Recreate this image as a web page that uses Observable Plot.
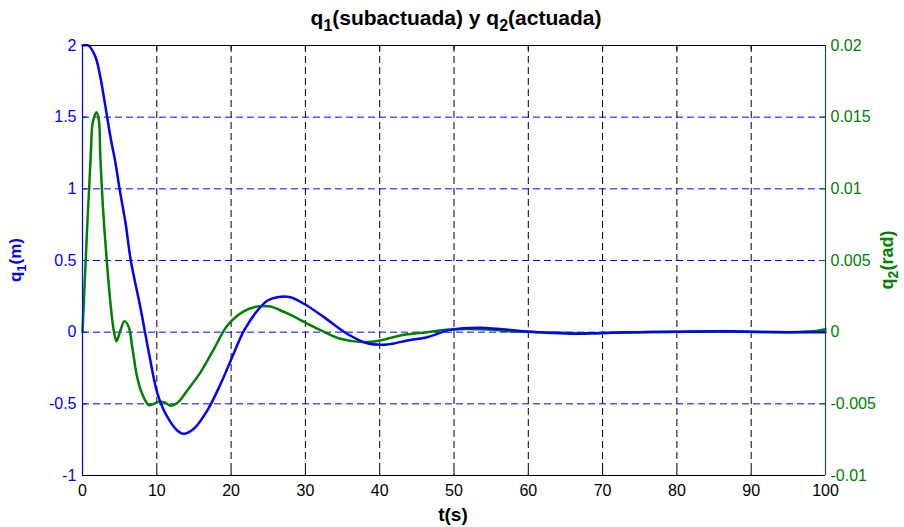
<!DOCTYPE html>
<html>
<head>
<meta charset="utf-8">
<script src="https://cdn.jsdelivr.net/npm/d3@7"></script>
<script src="https://cdn.jsdelivr.net/npm/@observablehq/plot@0.6"></script>
<style>
  html, body { margin: 0; padding: 0; background: #fff; }
</style>
</head>
<body>
<div id="chart"></div>
<script>
// q1: underactuated coordinate (m), left axis
const tQ1 = [0, 0.8, 1.75, 2.4, 3.1, 3.77, 4.44, 5.02, 5.8, 6.5, 7.8, 8.96, 10.1, 11.4, 12.75, 13.6, 14.98, 16.8, 18.6, 19.96, 21.75, 23.55, 24.9, 26.2, 28.0, 29.8, 32.5, 35.6, 38.3, 41.0, 43.7, 46.4, 49.5, 53.6, 55.8, 59.8, 63, 66.5, 70, 75, 80, 86.7, 90, 95, 100];
const q1 = [2, 2, 1.92, 1.78, 1.57, 1.36, 1.18, 0.99, 0.76, 0.50, 0.17, -0.15, -0.43, -0.59, -0.686, -0.709, -0.674, -0.546, -0.36, -0.197, 0.012, 0.151, 0.221, 0.244, 0.244, 0.198, 0.105, -0.011, -0.077, -0.086, -0.058, -0.035, 0.016, 0.031, 0.023, 0.005, -0.005, -0.011, -0.005, 0.0, 0.003, 0.007, 0.003, 0.0, 0.0];

// q2: actuated coordinate (rad), right axis
const tQ2 = [0, 0.63, 1.1, 1.39, 1.88, 2.2, 2.4, 2.78, 3.3, 3.77, 4.2, 4.58, 5.1, 5.65, 6.23, 6.7, 7.36, 8.03, 8.96, 10.1, 11.0, 11.9, 12.75, 14.1, 15.9, 17.7, 19.5, 21.75, 23.55, 25.3, 26.6, 28.4, 30.7, 32.1, 34.7, 37.9, 40.1, 42.8, 46.4, 49.5, 54.5, 57.2, 62, 67, 75, 85, 95, 99, 100];
const q2 = [0, 0.0073, 0.0122, 0.01465, 0.01535, 0.0148, 0.0122, 0.0085, 0.00477, 0.00198, 0.00012, -0.00063, 0.00012, 0.00077, 0.00035, -0.00105, -0.00314, -0.0043, -0.0051, -0.00488, -0.00488, -0.00514, -0.00495, -0.00407, -0.00279, -0.00116, 0.00047, 0.00147, 0.00179, 0.00179, 0.00153, 0.00111, 0.00047, 0.00012, -0.00046, -0.0007, -0.00058, -0.00023, 0.0, 0.00019, 0.00019, 0.00007, 0.0, -0.00007, 0.0, 0.00005, 0.0, 0.0001, 0.0002];

const xTicks = [0, 10, 20, 30, 40, 50, 60, 70, 80, 90, 100];
const leftTicks = [-1, -0.5, 0, 0.5, 1, 1.5, 2];
const leftTickLabels = ["-1", "-0.5", "0", "0.5", "1", "1.5", "2"];
const rightTicks = [-0.01, -0.005, 0, 0.005, 0.01, 0.015, 0.02];
const rightTickLabels = ["-0.01", "-0.005", "0", "0.005", "0.01", "0.015", "0.02"];

// The right axis (rad) shares the vertical scale: 0.02 rad sits level with 2 m.
const RAD_TO_LEFT = 100;

const BLUE = "#0000ff";
const GREEN = "#008000";
const RIGHT_EDGE = "#0d5a3a";

const W = 904, H = 527;
const mL = 82, mR = 79, mT = 45, mB = 52;
const innerW = W - mL - mR, innerH = H - mT - mB;
const TICK = 5;

const dataQ1 = tQ1.map((t, i) => ({t, v: q1[i]}));
const dataQ2 = tQ2.map((t, i) => ({t, v: q2[i] * RAD_TO_LEFT}));
const rightLabelOf = new Map(rightTicks.map((v, i) => [Math.round(v * RAD_TO_LEFT * 10), rightTickLabels[i]]));
const leftLabelOf = new Map(leftTicks.map((v, i) => [Math.round(v * 10), leftTickLabels[i]]));

const innerX = xTicks.slice(1, -1);
const innerY = leftTicks.slice(1, -1);

const svg = Plot.plot({
  width: W,
  height: H,
  marginLeft: mL,
  marginRight: mR,
  marginTop: mT,
  marginBottom: mB,
  style: {fontFamily: "'Liberation Sans', Arial, sans-serif", fontSize: "16px", background: "#fff"},
  x: {domain: [0, 100]},
  y: {domain: [-1, 2]},
  marks: [
    // grid
    Plot.ruleX(innerX, {stroke: "#000", strokeWidth: 1, strokeDasharray: "7,4"}),
    Plot.ruleY(innerY, {stroke: BLUE, strokeWidth: 1, strokeDasharray: "7,4"}),
    // inward tick marks
    Plot.tickX(innerX, {x: d => d, stroke: "#000", insetTop: innerH - TICK}),
    Plot.tickX(innerX, {x: d => d, stroke: "#000", insetBottom: innerH - TICK}),
    Plot.tickY(innerY, {y: d => d, stroke: BLUE, insetRight: innerW - TICK}),
    Plot.tickY(innerY, {y: d => d, stroke: GREEN, insetLeft: innerW - TICK}),
    // axes labels
    Plot.axisX(xTicks, {anchor: "bottom", tickSize: 0, tickPadding: 9, label: null, fill: "#000", tickFormat: d => String(d)}),
    Plot.axisY(leftTicks, {anchor: "left", tickSize: 0, tickPadding: 6, label: null, fill: BLUE, tickFormat: d => leftLabelOf.get(Math.round(d * 10))}),
    Plot.axisY(rightTicks.map(v => v * RAD_TO_LEFT), {anchor: "right", tickSize: 0, tickPadding: 5, label: null, fill: GREEN, tickFormat: d => rightLabelOf.get(Math.round(d * 10))}),
    // curves
    Plot.line(dataQ2, {x: "t", y: "v", stroke: GREEN, strokeWidth: 2.5, curve: "catmull-rom"}),
    Plot.line(dataQ1, {x: "t", y: "v", stroke: BLUE, strokeWidth: 2.5, curve: "catmull-rom"}),
    // box
    Plot.ruleY([2], {stroke: "#000", strokeWidth: 1.2}),
    Plot.ruleY([-1], {stroke: "#000", strokeWidth: 1.2}),
    Plot.ruleX([0], {stroke: BLUE, strokeWidth: 1.2}),
    Plot.ruleX([100], {stroke: RIGHT_EDGE, strokeWidth: 1.2})
  ]
});

document.getElementById("chart").appendChild(svg);

// Text with subscripts, built from parts: [text, isSubscript]
function richText(parent, parts, {x, y, size, fill, rotate = 0, anchor = "middle"}) {
  const g = d3.select(parent).append("g")
    .attr("transform", `translate(${x},${y}) rotate(${rotate})`);
  const text = g.append("text")
    .attr("text-anchor", anchor)
    .attr("font-family", "'Liberation Sans', Arial, sans-serif")
    .attr("font-weight", "bold")
    .attr("font-size", size)
    .attr("fill", fill);
  const shift = Math.round(size * 0.3);
  let sub = false;
  for (const [s, isSub] of parts) {
    const ts = text.append("tspan").text(s);
    if (isSub && !sub) ts.attr("dy", shift).attr("font-size", Math.round(size * 0.75));
    else if (!isSub && sub) ts.attr("dy", -shift);
    sub = isSub;
  }
  return text;
}

richText(svg, [["q", false], ["1", true], ["(subactuada) y q", false], ["2", true], ["(actuada)", false]],
  {x: 456, y: 25, size: 21, fill: "#000"});
richText(svg, [["t(s)", false]], {x: 453, y: 521, size: 19, fill: "#000"});
richText(svg, [["q", false], ["1", true], ["(m)", false]], {x: 21, y: 260, size: 17, fill: BLUE, rotate: -90});
richText(svg, [["q", false], ["2", true], ["(rad)", false]], {x: 893, y: 260, size: 18, fill: GREEN, rotate: -90});
</script>
</body>
</html>
